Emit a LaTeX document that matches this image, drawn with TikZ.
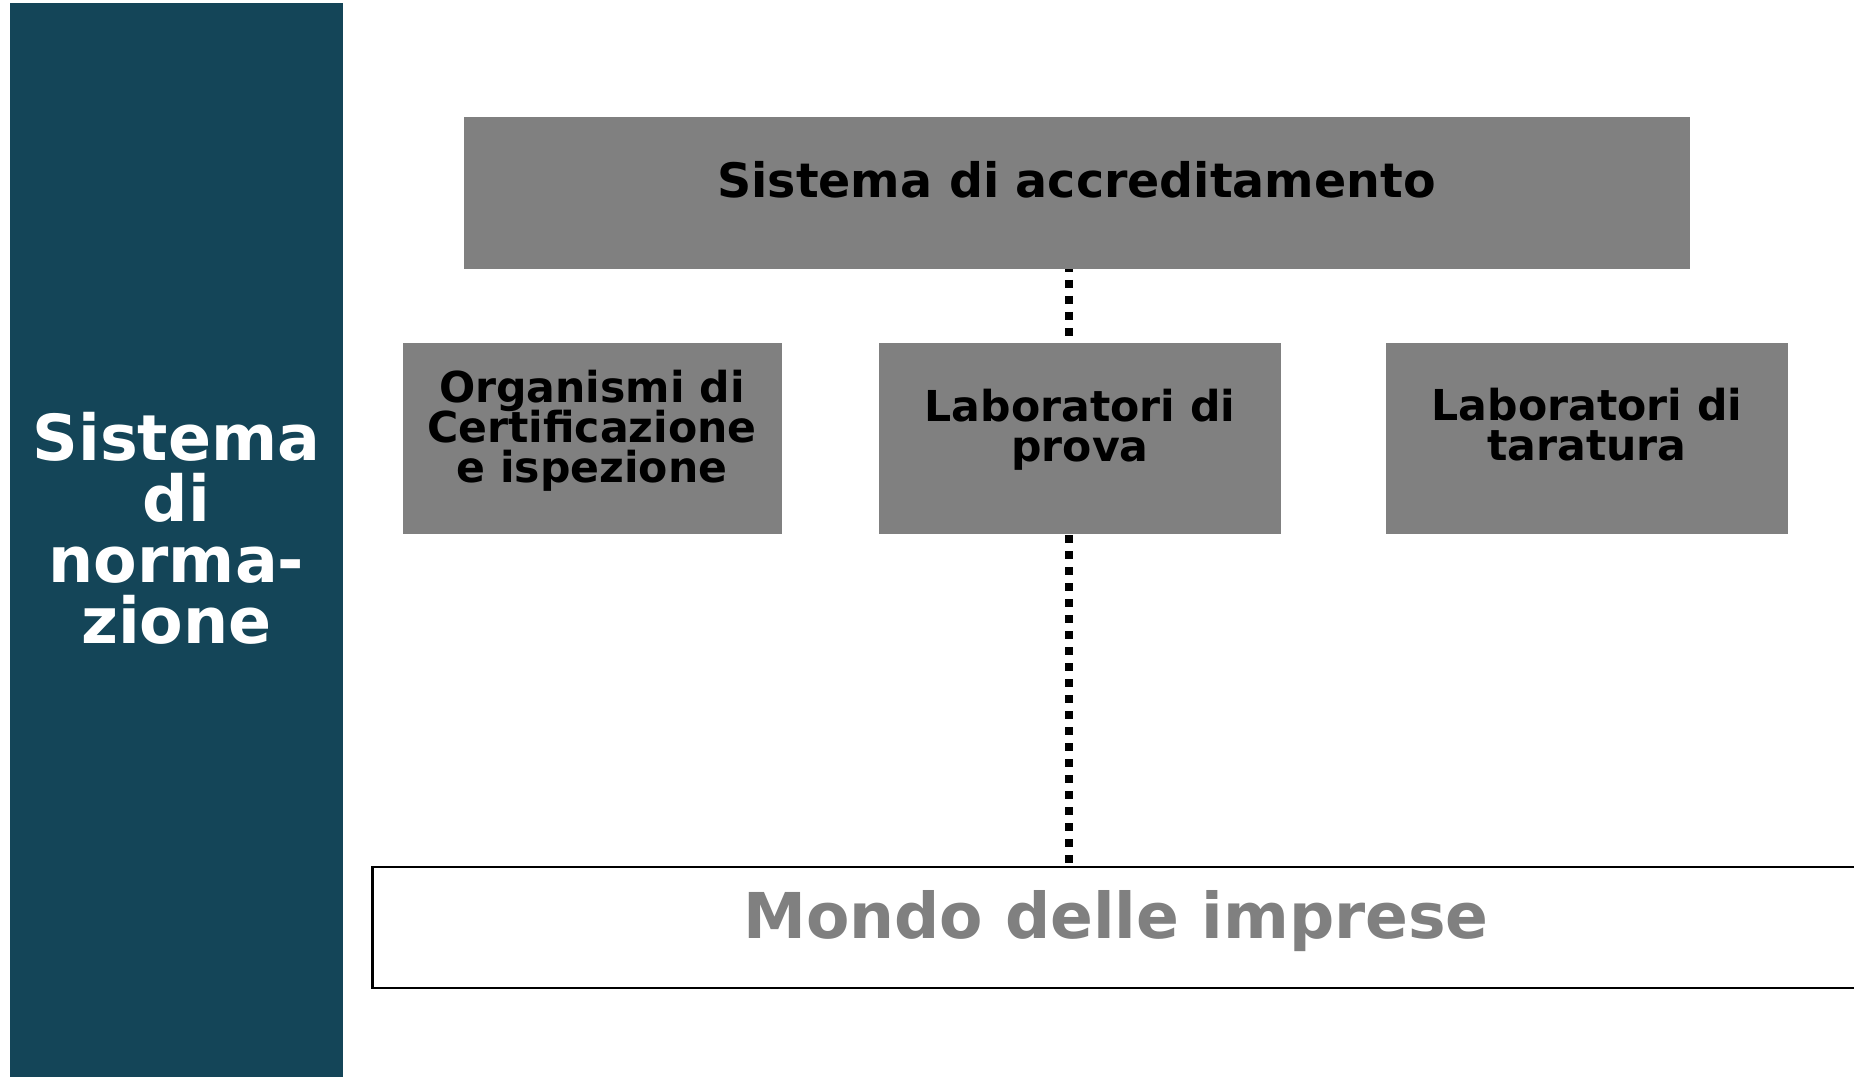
\documentclass[tikz,border=0pt]{standalone}
\usepackage{fontspec}
\setmainfont{DejaVu Sans}
\definecolor{normblue}{RGB}{20,69,88}
\definecolor{boxgray}{RGB}{128,128,128}
\newcommand\tightlead{\lineskiplimit=-100pt\relax}
\tikzset{
  greybox/.style={fill=boxgray, inner sep=0pt, outer sep=0pt},
  boxtext/.style={align=center, font={\bfseries\fontsize{42.6}{40}\selectfont\tightlead}},
  dotline/.style={line width=8pt, dash pattern=on 8pt off 8pt}
}
\begin{document}
\begin{tikzpicture}[x=1pt,y=-1pt]
\useasboundingbox (0,0) rectangle (1854,1077);
\node[fill=normblue, inner sep=0pt, minimum width=333pt, minimum height=1074pt] (norma) at (176.5,540) {};
\node[text=white, align=center, font={\bfseries\fontsize{63.5}{61}\selectfont\tightlead}] (normatxt) at (176.5,528) {Sistema\\di\\norma-\\zione};
\node[greybox, minimum width=1226pt, minimum height=152.5pt] (accred) at (1076.5,193.2) {};
\node[font={\bfseries\fontsize{47.5}{48}\selectfont}] (accredtxt) at (1076.5,180) {Sistema di accreditamento};
\node[greybox, minimum width=378.7pt, minimum height=191.5pt] (organismi) at (592.3,438.7) {};
\node[greybox, minimum width=401.5pt, minimum height=191.5pt] (prova) at (1079.75,438.7) {};
\node[greybox, minimum width=402pt, minimum height=191.5pt] (taratura) at (1587,438.7) {};
\node[boxtext] (organismitxt) at (592,431) {Organismi di\\Certificazione\\e ispezione};
\node[boxtext] (provatxt) at (1080,429.5) {Laboratori di\\prova};
\node[boxtext] (taraturatxt) at (1587,425) {Laboratori di\\taratura};
\node[draw, line width=2.5pt, fill=white, inner sep=0pt, outer sep=0pt, minimum width=1487.5pt, minimum height=120.8pt] (imprese) at (1116.25,927.6) {};
\node[text=boxgray, font={\bfseries\fontsize{63.2}{63}\selectfont}] (impresetxt) at (1116,921) {Mondo delle imprese};
\coordinate (dotx) at (1069,0);
\draw[dotline, dash phase=5.5pt] (accred.south -| dotx) -- (prova.north -| dotx);
\draw[dotline, dash phase=15.2pt] (prova.south -| dotx) -- (imprese.north -| dotx);
\end{tikzpicture}
\end{document}
